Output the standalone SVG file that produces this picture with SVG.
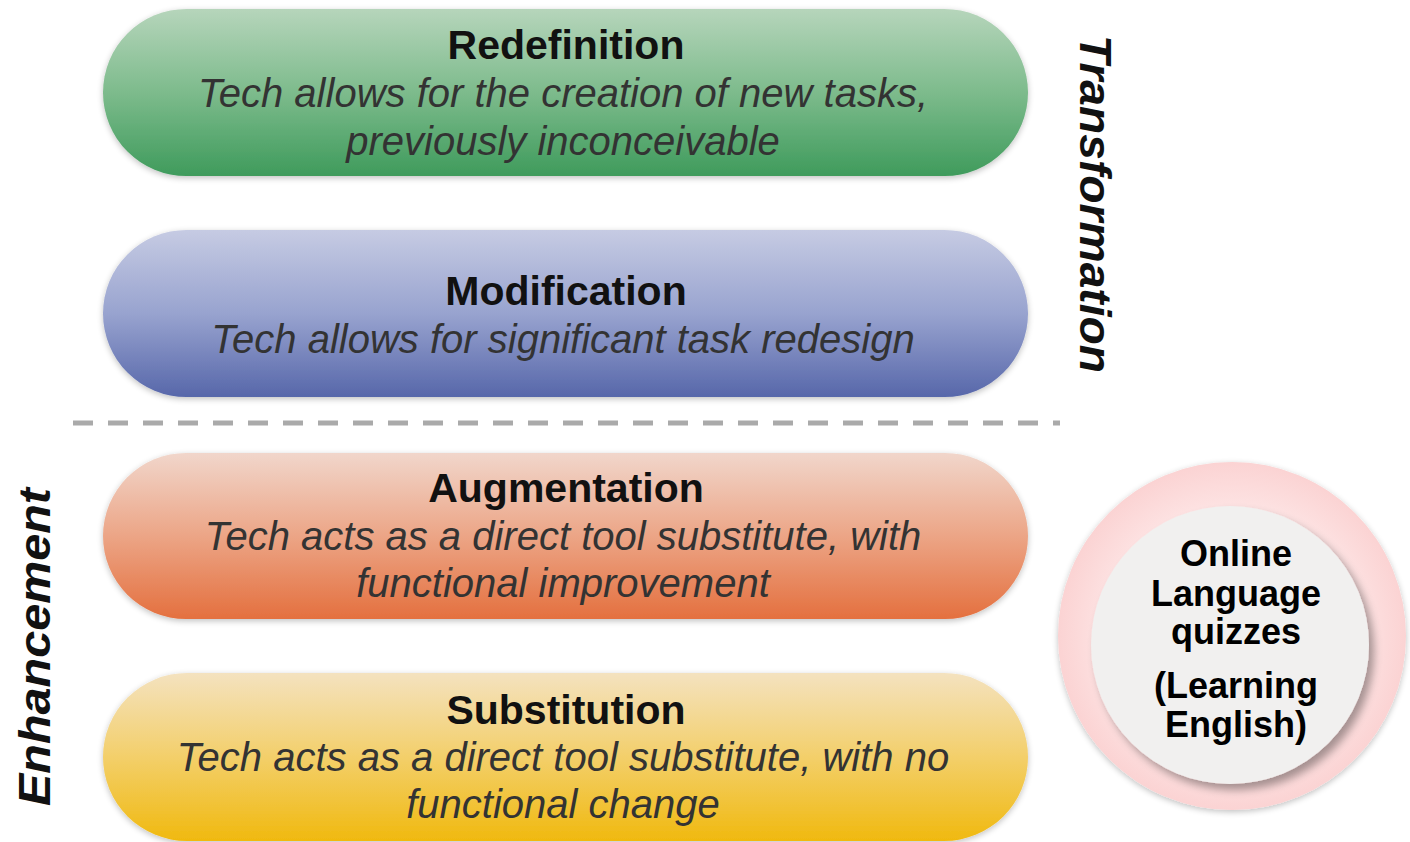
<svg xmlns="http://www.w3.org/2000/svg" width="1410" height="842" viewBox="0 0 1410 842">
<defs>
<linearGradient id="gGreen" x1="0" y1="0" x2="0" y2="1">
<stop offset="0" stop-color="#b6d5bb"/><stop offset="0.5" stop-color="#7dbb8c"/><stop offset="1" stop-color="#3f9b5c"/>
</linearGradient>
<linearGradient id="gBlue" x1="0" y1="0" x2="0" y2="1">
<stop offset="0" stop-color="#c6cbe3"/><stop offset="0.5" stop-color="#98a3cf"/><stop offset="1" stop-color="#5767aa"/>
</linearGradient>
<linearGradient id="gOrange" x1="0" y1="0" x2="0" y2="1">
<stop offset="0" stop-color="#f1d6cb"/><stop offset="0.5" stop-color="#eca586"/><stop offset="1" stop-color="#e4703f"/>
</linearGradient>
<linearGradient id="gYellow" x1="0" y1="0" x2="0" y2="1">
<stop offset="0" stop-color="#f4e2bf"/><stop offset="0.5" stop-color="#f3cf6a"/><stop offset="1" stop-color="#f0b90f"/>
</linearGradient>
<radialGradient id="gPink" cx="0.5" cy="0.5" r="0.5">
<stop offset="0.75" stop-color="#fde2e2"/><stop offset="1" stop-color="#fbd3d3"/>
</radialGradient>
<filter id="shadow" x="-10%" y="-10%" width="130%" height="130%">
<feGaussianBlur in="SourceAlpha" stdDeviation="3"/>
<feOffset dx="0" dy="2" result="b"/>
<feComponentTransfer><feFuncA type="linear" slope="0.25"/></feComponentTransfer>
<feMerge><feMergeNode/><feMergeNode in="SourceGraphic"/></feMerge>
</filter>
<filter id="cshadow" x="-20%" y="-20%" width="140%" height="140%">
<feGaussianBlur in="SourceAlpha" stdDeviation="4"/>
<feOffset dx="5" dy="6" result="b"/>
<feComponentTransfer><feFuncA type="linear" slope="0.35"/></feComponentTransfer>
<feMerge><feMergeNode/><feMergeNode in="SourceGraphic"/></feMerge>
</filter>
</defs>
<style>
.title{font-family:"Liberation Sans",Arial,sans-serif;font-weight:bold;font-size:41px;fill:#111;text-anchor:middle}
.sub{font-family:"Liberation Sans",Arial,sans-serif;font-style:italic;font-size:40px;fill:#333;text-anchor:middle}
.side{font-family:"Liberation Sans",Arial,sans-serif;font-style:italic;font-weight:bold;font-size:44px;fill:#111}
.circ{font-family:"Liberation Sans",Arial,sans-serif;font-weight:bold;font-size:36px;fill:#000;text-anchor:middle}
</style>
<rect width="1410" height="842" fill="#fff"/>

<g id="redefinition">
<rect x="103" y="9" width="925" height="167" rx="83.5" fill="url(#gGreen)" filter="url(#shadow)"/>
<text class="title" x="566" y="59">Redefinition</text>
<text class="sub" x="563" y="107">Tech allows for the creation of new tasks,</text>
<text class="sub" x="563" y="155">previously inconceivable</text>
</g>

<g id="modification">
<rect x="103" y="230" width="925" height="167" rx="83.5" fill="url(#gBlue)" filter="url(#shadow)"/>
<text class="title" x="566" y="305">Modification</text>
<text class="sub" x="563" y="353">Tech allows for significant task redesign</text>
</g>

<g id="connectors">
<line x1="73" y1="423" x2="1060" y2="423" stroke="#aaaaaa" stroke-width="5" stroke-dasharray="20 15"/>
</g>

<g id="augmentation">
<rect x="103" y="453" width="925" height="166" rx="83" fill="url(#gOrange)" filter="url(#shadow)"/>
<text class="title" x="566" y="502">Augmentation</text>
<text class="sub" x="563" y="550">Tech acts as a direct tool substitute, with</text>
<text class="sub" x="563" y="597">functional improvement</text>
</g>

<g id="substitution">
<rect x="103" y="673" width="925" height="168" rx="84" fill="url(#gYellow)" filter="url(#shadow)"/>
<text class="title" x="566" y="724">Substitution</text>
<text class="sub" x="563" y="771">Tech acts as a direct tool substitute, with no</text>
<text class="sub" x="563" y="818">functional change</text>
</g>

<g id="transformation-label">
<text class="side" transform="translate(1080,35) rotate(90)" textLength="338" lengthAdjust="spacingAndGlyphs">Transformation</text>
</g>

<g id="enhancement-label">
<text class="side" transform="translate(50,806) rotate(-90)" font-size="42" textLength="318" lengthAdjust="spacingAndGlyphs">Enhancement</text>
</g>

<g id="example-circle">
<circle cx="1232" cy="636" r="174" fill="url(#gPink)" filter="url(#shadow)"/>
<circle cx="1230" cy="645" r="139" fill="#f1f0ef" filter="url(#cshadow)"/>
<text class="circ" x="1236" y="566">Online</text>
<text class="circ" x="1236" y="606">Language</text>
<text class="circ" x="1236" y="644">quizzes</text>
<text class="circ" x="1236" y="698">(Learning</text>
<text class="circ" x="1236" y="737">English)</text>
</g>
</svg>
